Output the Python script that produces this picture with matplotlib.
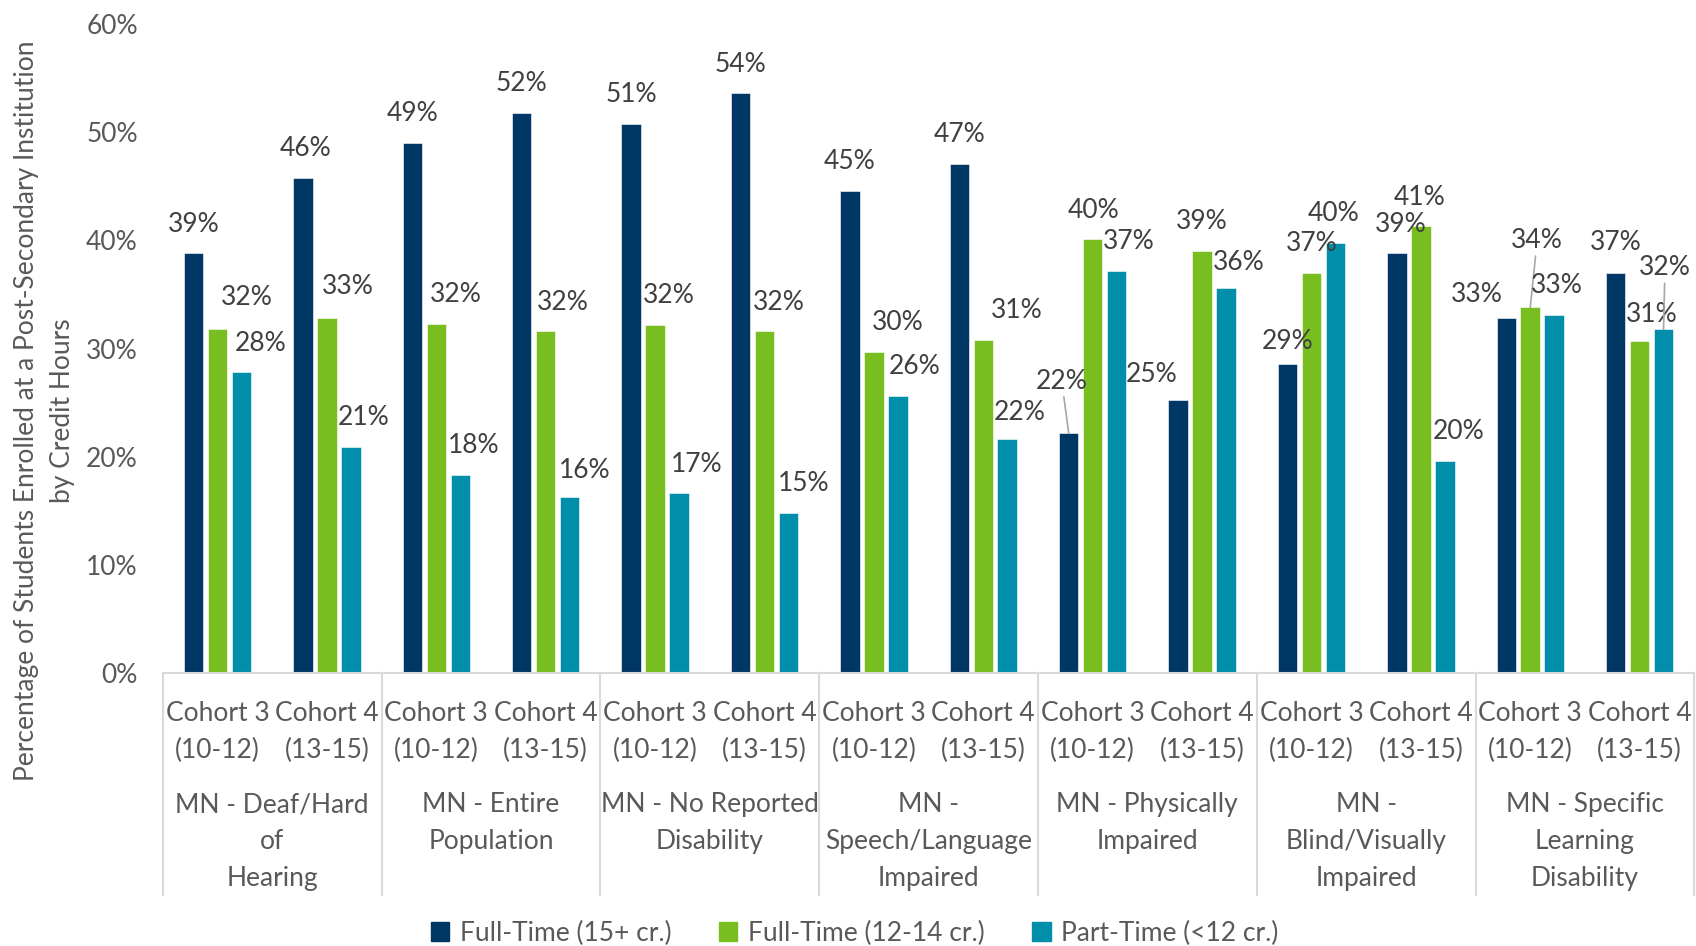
import numpy as np
import matplotlib
matplotlib.use("Agg")
import matplotlib.pyplot as plt
import matplotlib.transforms as mtransforms
from matplotlib.patches import Patch

plt.rcParams['font.family'] = ['Lato', 'DejaVu Sans']

# --- datos ---
categorias = ["MN - Deaf/Hard\nof\nHearing", "MN - Entire\nPopulation",
              "MN - No Reported\nDisability", "MN -\nSpeech/Language\nImpaired",
              "MN - Physically\nImpaired", "MN -\nBlind/Visually\nImpaired",
              "MN - Specific\nLearning\nDisability"]
cohortes = ["Cohort 3\n(10-12)", "Cohort 4\n(13-15)"]
series = ["Full-Time (15+ cr.)", "Full-Time (12-14 cr.)", "Part-Time (<12 cr.)"]

full_15 = [38.8, 45.8, 49.0, 51.8, 50.8, 53.6, 44.6, 47.1, 22.2, 25.2, 28.6, 38.8, 32.8, 37.0]
full_12 = [31.8, 32.8, 32.3, 31.6, 32.2, 31.6, 29.7, 30.8, 40.1, 39.0, 37.0, 41.3, 33.8, 30.7]
part_12 = [27.8, 20.9, 18.3, 16.3, 16.6, 14.8, 25.6, 21.6, 37.2, 35.6, 39.8, 19.6, 33.1, 31.8]

# desplazamiento de etiquetas (puntos) como en el original
dx = [[0, 2, 0, 0, 0, 0, 0, 0, -5, -19, 0, 3, -21, 0],
      [21, 15, 14, 12, 10, 10, 17, 24, 1, 0, 0, -1, 5, 9],
      [14, 9, 10, 11, 13, 11, 12, 9, 9, 9, -1, 10, 2, 1]]
dy = [[21] * 14, [21] * 14, [21] * 14]
dy[0][8], dy[0][9], dy[0][10], dy[0][12], dy[0][13] = 37, 19, 16, 17, 22
dy[1][0], dy[1][1], dy[1][12], dy[1][13] = 23, 23, 48, 19
dy[2][3], dy[2][7], dy[2][9], dy[2][13] = 19, 19, 18, 44
con_linea = [(0, 8), (1, 12), (2, 13)]

colores = ['#003764', '#78BE20', '#008EAA']
gris = '#595959'
fs = 19

fig = plt.figure(figsize=(16.96, 9.46), dpi=100)
ax = fig.add_axes([0.096, 0.2886, 0.903, 0.686])

x = np.arange(14)
ancho = 0.178
paso = 0.219
for s, vals in enumerate([full_15, full_12, part_12]):
    pos = x + (s - 1) * paso
    ax.bar(pos, vals, width=ancho, color=colores[s], edgecolor='white', linewidth=0.4)
    for g, v in enumerate(vals):
        kw = {}
        if (s, g) in con_linea:
            kw['arrowprops'] = dict(arrowstyle='-', color='#A6A6A6', lw=1.2, shrinkA=0, shrinkB=0)
        ax.annotate(f"{v:.0f}%", (pos[g], v), xytext=(dx[s][g], dy[s][g]),
                    textcoords='offset points', ha='center', va='center',
                    fontsize=fs, color='#404040', **kw)

ax.set_xlim(-0.5, 13.5)
ax.set_ylim(0, 60)
ax.set_yticks(np.arange(0, 61, 10))
ax.set_yticklabels([f"{t}%" for t in range(0, 61, 10)])
ax.tick_params(axis='y', length=0, pad=18, labelsize=fs, labelcolor=gris)
ax.set_xticks([])
for lado in ['top', 'right', 'left']:
    ax.spines[lado].set_visible(False)
ax.spines['bottom'].set_color('#D9D9D9')
ax.spines['bottom'].set_linewidth(1.5)

trans = mtransforms.blended_transform_factory(ax.transData, ax.transAxes)
for b in np.arange(-0.5, 14, 2):
    ax.plot([b, b], [0, -0.342], transform=trans, color='#D9D9D9', lw=1.5, clip_on=False)
for g in x:
    ax.text(g, -0.0915, cohortes[g % 2], transform=trans, ha='center', va='center',
            fontsize=fs, color=gris, linespacing=1.6)
for c, nombre in enumerate(categorias):
    ax.text(2 * c + 0.5, -0.1835, nombre, transform=trans, ha='center', va='top',
            fontsize=fs, color=gris, linespacing=1.6)

fig.text(0.0265, 0.5655, "Percentage of Students Enrolled at a Post-Secondary Institution\nby Credit Hours",
         rotation=90, ha='center', va='center', fontsize=fs, color=gris, linespacing=1.55)

handles = [Patch(color=c) for c in colores]
fig.legend(handles, series, loc='center', bbox_to_anchor=(0.504, 0.0135), ncol=3, frameon=False,
           fontsize=fs, labelcolor=gris, handlelength=0.7, handleheight=0.7,
           handletextpad=0.4, columnspacing=1.8)

fig.savefig("out.png", dpi=100)
